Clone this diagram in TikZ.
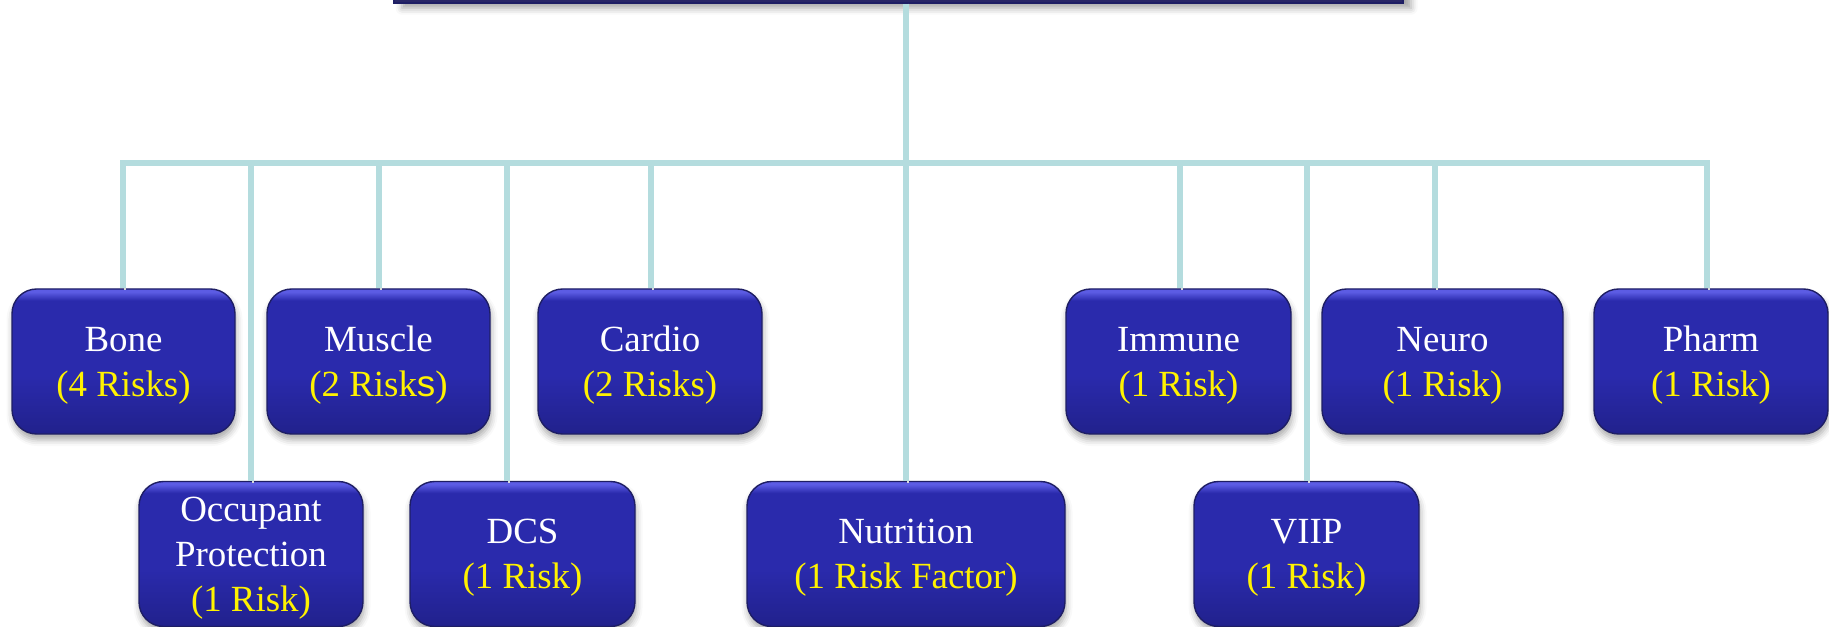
\documentclass[tikz,border=0pt]{standalone}
\usepackage{fontspec}
\setmainfont{Liberation Serif}
\setsansfont{Liberation Sans}
\usetikzlibrary{shadows.blur}

\definecolor{linkc}{RGB}{180,220,222}
\definecolor{boxhi}{RGB}{92,92,228}
\definecolor{boxmid}{RGB}{42,42,172}
\definecolor{boxbot}{RGB}{33,33,140}
\definecolor{boxedge}{RGB}{30,30,100}
\definecolor{rootc}{RGB}{40,38,102}
\pgfdeclareverticalshading{riskshade}{100bp}{color(0bp)=(boxbot); color(25bp)=(boxbot);
  color(45bp)=(boxmid); color(71bp)=(boxmid); color(74bp)=(boxhi); color(100bp)=(boxhi)}
\newcommand\rsk[1]{\textcolor{yellow}{(#1)}}

\begin{document}
\begin{tikzpicture}[
  risk/.style={draw=boxedge, rounded corners=7pt, align=center, inner sep=0pt,
    shading=riskshade, minimum width=#1, minimum height=14.5mm, text=white,
    font=\fontsize{10.5}{12.8}\selectfont, text depth=-3.8pt,
    blur shadow={shadow xshift=0.3pt, shadow yshift=-1.6pt, shadow opacity=35}},
  risk/.default=22.4mm,
  link/.style={draw=linkc, line width=1.7pt,
    preaction={draw=black!15, transform canvas={xshift=0.6pt, yshift=-0.6pt}}}]
  \useasboundingbox (0,0) rectangle (18.29,-6.27);
  \node[draw=boxedge, fill=rootc, minimum width=100.9mm, minimum height=5mm, inner sep=0pt,
    blur shadow={shadow yshift=-1.5pt, shadow opacity=35}] (root) at (8.985,0.22) {};
  % top row
  \node[risk=22.3mm] (bone) at (1.235,-3.615) {Bone\\\rsk{4 Risks}};
  \node[risk=22.3mm] (muscle) at (3.785,-3.615) {Muscle\\\rsk{2 Risk{\sffamily s}}};
  \node[risk] (cardio) at (6.50,-3.615) {Cardio\\\rsk{2 Risks}};
  \node[risk=22.5mm] (immune) at (11.785,-3.615) {Immune\\\rsk{1 Risk}};
  \node[risk=24.1mm] (neuro) at (14.425,-3.615) {Neuro\\\rsk{1 Risk}};
  \node[risk=23.4mm] (pharm) at (17.11,-3.615) {Pharm\\\rsk{1 Risk}};
  % bottom row
  \node[risk] (occ) at (2.51,-5.54) {Occupant\\Protection\\\rsk{1 Risk}};
  \node[risk=22.5mm] (dcs) at (5.225,-5.54) {DCS\\\rsk{1 Risk}};
  \node[risk=31.8mm] (nutr) at (9.06,-5.54) {Nutrition\\\rsk{1 Risk Factor}};
  \node[risk=22.5mm] (viip) at (13.065,-5.54) {VIIP\\\rsk{1 Risk}};
  % connectors
  \foreach \name/\x in {bone/1.23, occ/2.51, muscle/3.79, dcs/5.07, cardio/6.51,
      nutr/9.06, immune/11.80, viip/13.07, neuro/14.35, pharm/17.07}
    \coordinate (t\name) at (\x,-1.63);
  \draw[link] (root.south -| tnutr) -- (tnutr);
  \draw[link, line cap=rect] (tbone) -- (tpharm);
  \foreach \name in {bone, occ, muscle, dcs, cardio, nutr, immune, viip, neuro, pharm}
    \draw[link] (t\name) -- (t\name |- \name.north);
\end{tikzpicture}
\end{document}
